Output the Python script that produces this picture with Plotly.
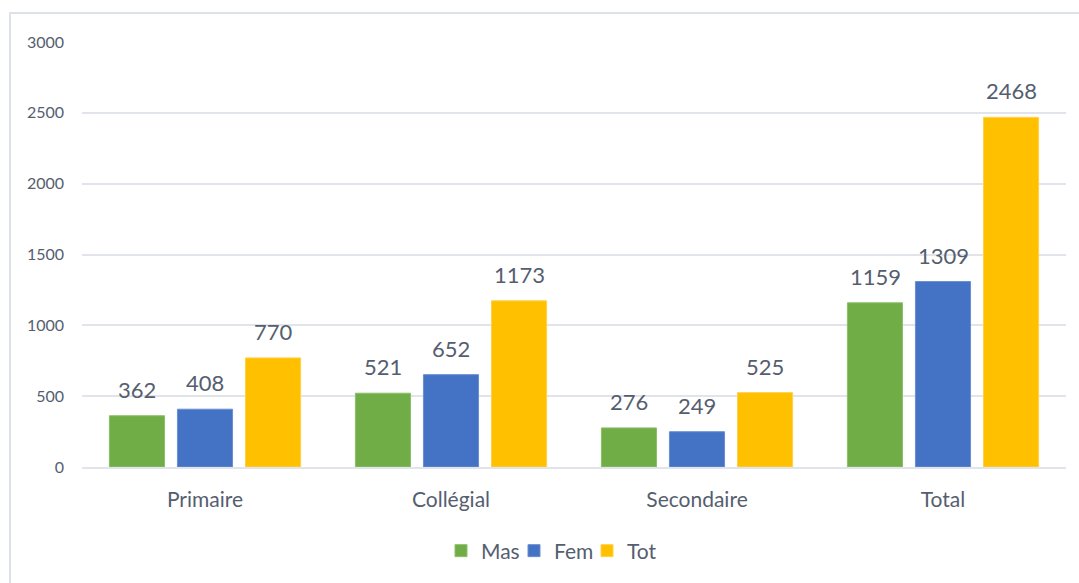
import plotly.graph_objects as go

categories = ["Primaire", "Collégial", "Secondaire", "Total"]
mas = [362, 521, 276, 1159]
fem = [408, 652, 249, 1309]
tot = [770, 1173, 525, 2468]
y_ticks = [0, 500, 1000, 1500, 2000, 2500, 3000]

series = [
    ("Mas", mas, "#70AD47", "#8cc068"),
    ("Fem", fem, "#4472C4", "#6a8fd2"),
    ("Tot", tot, "#FFC000", "#ffd04a"),
]

W, H = 1079, 583
ML, MR, MT, MB = 82, 13, 42, 116
TEXT = "#555e6f"
GRID = "#e1e5eb"
FONT = "Lato, 'Open Sans', sans-serif"

fig = go.Figure()
for name, vals, col, edge in series:
    fig.add_trace(go.Bar(
        name=name, x=categories, y=vals,
        marker=dict(color=col, line=dict(color=edge, width=1)),
        hoverinfo="x+y+name",
    ))

# value labels above each bar (bars of a group are 68 px apart)
offsets = [-68, 0, 68]
annotations = []
for (name, vals, col, edge), dx in zip(series, offsets):
    for cat, v in zip(categories, vals):
        annotations.append(dict(
            x=cat, y=v, xref="x", yref="y", text=str(v), showarrow=False,
            xshift=dx, yshift=11, yanchor="bottom", xanchor="center",
            font=dict(family=FONT, size=22, color=TEXT),
        ))

pw = W - ML - MR
ph = H - MT - MB
# outer chart frame (left and top edges visible)
frame = dict(
    type="rect", xref="paper", yref="paper", layer="below",
    x0=(10 - ML) / pw, x1=(W + 20 - ML) / pw,
    y0=-(H + 20 - MT - ph) / ph, y1=1 + (MT - 13) / ph,
    line=dict(color="#dde2e9", width=2), fillcolor="rgba(0,0,0,0)",
)

fig.update_layout(
    width=W, height=H,
    margin=dict(l=ML, r=MR, t=MT, b=MB),
    paper_bgcolor="white", plot_bgcolor="white",
    barmode="group", bargap=0.17, bargroupgap=0.19,
    font=dict(family=FONT, color=TEXT),
    annotations=annotations,
    shapes=[frame],
    showlegend=True,
    legend=dict(
        orientation="h", x=(441 - ML) / pw, xanchor="left",
        y=-(551 - (MT + ph)) / ph, yanchor="middle",
        font=dict(family=FONT, size=21, color=TEXT),
        itemwidth=30, entrywidth=28, entrywidthmode="pixels",
        traceorder="normal",
    ),
    xaxis=dict(
        showgrid=False, showline=True, linecolor=GRID, linewidth=1.5,
        ticks="", tickfont=dict(family=FONT, size=21, color=TEXT),
        ticklabelstandoff=13,
    ),
    yaxis=dict(
        range=[0, 3000], tickvals=y_ticks, showgrid=True, gridcolor=GRID,
        gridwidth=1.5, zeroline=False, showline=False, ticks="",
        tickfont=dict(family=FONT, size=16, color=TEXT),
        ticklabelstandoff=17,
    ),
)

fig.write_html("out.html")
